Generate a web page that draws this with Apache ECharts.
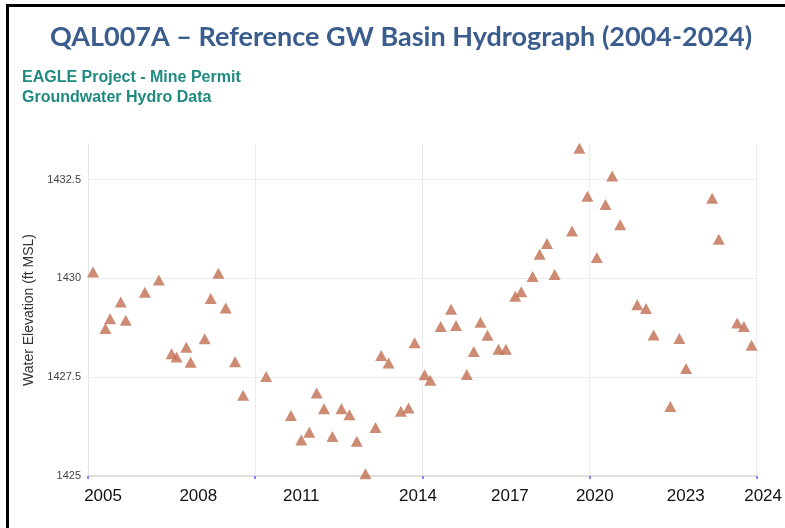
<!DOCTYPE html>
<html>
<head>
<meta charset="utf-8">
<script src="https://cdn.jsdelivr.net/npm/echarts@6/dist/echarts.min.js"></script>
<style>
html,body{margin:0;padding:0;background:#fff;overflow:hidden;}
#main{width:785px;height:528px;}
#frame{position:absolute;left:6px;top:4px;width:776px;height:521px;border-left:3px solid #000;border-top:3px solid #000;pointer-events:none;}
</style>
</head>
<body>
<div id="main"></div>
<div id="frame"></div>
<script>
// x axis runs in years since START so the grid interval starts clean
var START = 2004;

var sampleYears = [
  2004.15, 2004.52, 2004.66, 2004.98, 2005.13, 2005.70, 2006.12, 2006.50, 2006.65, 2006.94,
  2007.07, 2007.49, 2007.67, 2007.90, 2008.12, 2008.40, 2008.64, 2009.33, 2010.07, 2010.38,
  2010.62, 2010.84, 2011.06, 2011.31, 2011.58, 2011.82, 2012.04, 2012.30, 2012.60, 2012.77,
  2012.99, 2013.36, 2013.59, 2013.77, 2014.07, 2014.24, 2014.55, 2014.86, 2015.01, 2015.33,
  2015.54, 2015.74, 2015.95, 2016.28, 2016.50, 2016.78, 2016.96, 2017.30, 2017.51, 2017.73,
  2017.96, 2018.48, 2018.70, 2018.94, 2019.22, 2019.48, 2019.68, 2019.92, 2020.43, 2020.69,
  2020.92, 2021.42, 2021.69, 2021.89, 2022.67, 2022.87, 2023.42, 2023.62, 2023.85
];
var levels = [
  1430.16, 1428.73, 1428.98, 1429.40, 1428.94, 1429.65, 1429.96, 1428.09, 1428.01, 1428.26,
  1427.88, 1428.47, 1429.49, 1430.13, 1429.25, 1427.89, 1427.04, 1427.52, 1426.53, 1425.91,
  1426.11, 1427.10, 1426.70, 1426.00, 1426.70, 1426.55, 1425.88, 1425.06, 1426.23, 1428.05,
  1427.86, 1426.64, 1426.72, 1428.37, 1427.56, 1427.42, 1428.78, 1429.22, 1428.81, 1427.57,
  1428.15, 1428.89, 1428.56, 1428.21, 1428.21, 1429.55, 1429.66, 1430.05, 1430.61, 1430.88,
  1430.10, 1431.20, 1433.29, 1432.08, 1430.53, 1431.87, 1432.59, 1431.36, 1429.33, 1429.24,
  1428.57, 1426.76, 1428.48, 1427.72, 1432.03, 1430.99, 1428.87, 1428.78, 1428.31
];

// tick labels as they sit under the axis (in years)
var yearLabels = ['2005', '2008', '2011', '2014', '2017', '2020', '2023', '2024'];
var yearLabelAt = [2004.45, 2007.30, 2010.38, 2013.87, 2016.62, 2019.16, 2021.88, 2024.00];

var points = [];
for (var i = 0; i < sampleYears.length; i++) {
  points.push([sampleYears[i] - START, levels[i]]);
}
var labelValues = yearLabelAt.map(function (y) { return y - START; });

var myChart = echarts.init(document.getElementById('main'));

var option = {
  backgroundColor: '#fff',
  animation: false,
  title: [
    {
      text: 'QAL007A \u2013 Reference GW Basin Hydrograph (2004-2024)',
      left: 45,
      top: 19,
      textStyle: {
        fontFamily: 'Lato',
        fontWeight: 'bold',
        fontSize: 27,
        color: '#3b5d8d'
      }
    },
    {
      text: 'EAGLE Project - Mine Permit\nGroundwater Hydro Data',
      left: 17,
      top: 63,
      textStyle: {
        fontFamily: 'Liberation Sans',
        fontWeight: 'bold',
        fontSize: 16,
        lineHeight: 20,
        color: '#1f8a80'
      }
    }
  ],
  grid: {
    left: 88,
    right: 27,
    top: 144,
    bottom: 52
  },
  xAxis: {
    type: 'value',
    min: 0,
    max: 20,
    interval: 5,
    axisLine: { show: true, lineStyle: { color: '#dedede', width: 2 } },
    axisTick: { show: true, length: 3, lineStyle: { color: '#8585f2', width: 2 } },
    splitLine: { show: true, lineStyle: { color: '#ececec', width: 1 } },
    axisLabel: {
      customValues: labelValues,
      margin: 12,
      fontFamily: 'Liberation Sans',
      fontSize: 17,
      color: '#111',
      formatter: function (v) {
        for (var k = 0; k < labelValues.length; k++) {
          if (Math.abs(labelValues[k] - v) < 1e-6) {
            if (k === labelValues.length - 1) return '{s|' + yearLabels[k] + '}';
            return yearLabels[k];
          }
        }
        return '';
      },
      rich: {
        s: { padding: [0, 0, 0, 13], fontFamily: 'Liberation Sans', fontSize: 17, color: '#111' }
      }
    }
  },
  yAxis: {
    type: 'value',
    min: 1425,
    max: 1433.4,
    interval: 2.5,
    name: 'Water Elevation (ft MSL)',
    nameLocation: 'middle',
    nameGap: 46,
    nameTextStyle: {
      fontFamily: 'Liberation Sans',
      fontSize: 14,
      color: '#333'
    },
    axisLine: { show: true, lineStyle: { color: '#e6e6e6', width: 1 } },
    axisTick: { show: false },
    splitLine: { show: true, showMaxLine: false, lineStyle: { color: '#ececec', width: 1 } },
    axisLabel: {
      showMaxLabel: false,
      margin: 7,
      fontFamily: 'Liberation Sans',
      fontSize: 11,
      color: '#444',
      formatter: function (v) { return String(v); }
    }
  },
  series: [
    {
      name: 'QAL007A',
      type: 'scatter',
      symbol: 'triangle',
      symbolSize: [12, 11],
      itemStyle: { color: '#c06e50' },
      data: points
    }
  ]
};

myChart.setOption(option);
</script>
</body>
</html>
